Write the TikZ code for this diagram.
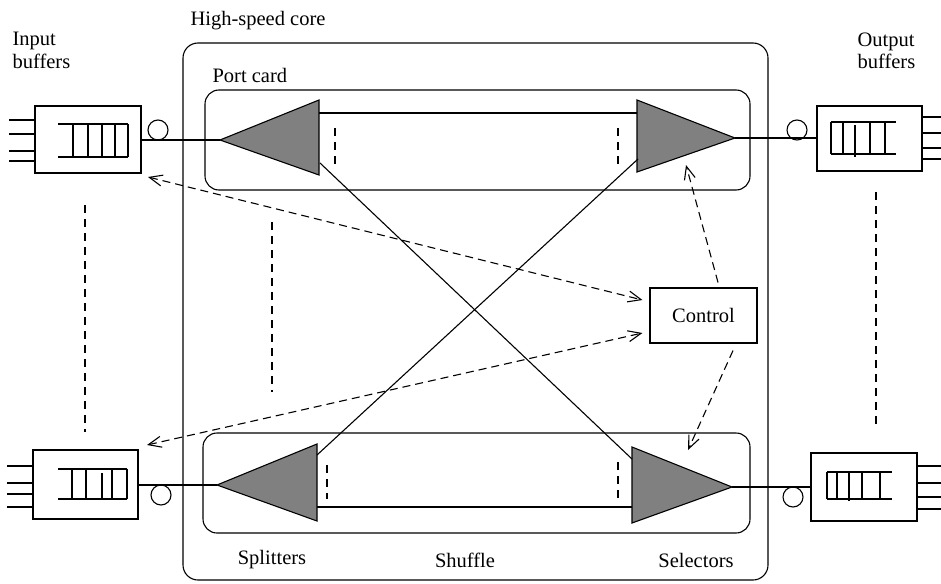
\documentclass[tikz,border=0pt]{standalone}
\usepackage{fontspec}
\setmainfont{Liberation Serif}
\usetikzlibrary{arrows.meta,calc}
\definecolor{ampgray}{RGB}{128,128,128}
\begin{document}
\begin{tikzpicture}[x=1pt,y=-1pt,line width=1.1pt,
  >={Straight Barb[length=13pt,width=11pt,line width=1.1pt]},
  lbl/.style={font=\fontsize{20.5}{22.5}\selectfont,inner sep=0pt},
  bufbox/.style={draw,minimum width=106pt,minimum height=67pt,inner sep=0pt},
  tap/.style={draw,circle,minimum size=20pt,inner sep=0pt},
  card/.style={draw,rounded corners=14pt,inner sep=0pt},
  amp/.style={draw,fill=ampgray,line join=miter},
  ctlbox/.style={draw,minimum width=107pt,minimum height=55pt,inner sep=0pt,font=\fontsize{20.5}{22.5}\selectfont},
  dsh/.style={dash pattern=on 8pt off 6pt},
  sig/.style={dash pattern=on 8pt off 5pt}]
\useasboundingbox (0,0) rectangle (941,583);

% high-speed core and port cards
\node[draw,rounded corners=15pt,minimum width=585pt,minimum height=537pt,inner sep=0pt] (core) at (475.5,311.5) {};
\node[card,minimum width=545pt,minimum height=100pt] (cardT) at (477.5,140) {};
\node[card,minimum width=547pt,minimum height=100pt] (cardB) at (476.5,483) {};

% labels
\node[lbl,anchor=west] (hsc) at (190,21) {High-speed core};
\node[lbl,anchor=west] (pc) at (212,75) {Port card};
\node[lbl,anchor=north west,align=left] (inl) at (12,32) {Input\\buffers};
\node[lbl,anchor=north west,align=left] (outl) at (857,32) {Output\\buffers};
\node[lbl] (spl) at (272,560) {Splitters};
\node[lbl] (shf) at (465,560) {Shuffle};
\node[lbl] (sel) at (696,560) {Selectors};

% buffers
\node[bufbox] (inT) at (88,139.5) {};
\node[bufbox,minimum width=105pt,minimum height=69pt] (inB) at (85.5,484.5) {};
\node[bufbox,minimum width=105pt,minimum height=65pt] (outT) at (869.5,138.5) {};
\node[bufbox,minimum height=68pt] (outB) at (864,487) {};

% feeder lines of the buffers
\foreach \y in {120,134,151,161} \draw (9,\y) -- (inT.west |- 0,\y);
\foreach \y in {466,483,494,507} \draw (7,\y) -- (inB.west |- 0,\y);
\foreach \y in {117,133,148,159} \draw (outT.east |- 0,\y) -- (941,\y);
\foreach \y in {466,483,497,509} \draw (outB.east |- 0,\y) -- (941,\y);

% queues
\draw (58,124) -- (128,124) (58,157) -- (128,157);
\foreach \x in {73,88,102,115,128} \draw (\x,124) -- (\x,157);
\draw (58,469) -- (127,469) (58,499) -- (127,499);
\foreach \x in {72,86,112,127} \draw (\x,469) -- (\x,499);
\draw (102,473) -- (102,499);
\draw (831,122) -- (896,122) (831,154) -- (896,154);
\foreach \x in {831,843,870,885} \draw (\x,122) -- (\x,154);
\draw (855,125) -- (855,157);
\draw (827,472) -- (892,472) (827,499) -- (892,499);
\foreach \x in {827,837,862,880} \draw (\x,472) -- (\x,499);
\draw (849,472) -- (849,501);

% splitters and selectors
\coordinate (sTa) at (220,140);
\coordinate (sTt) at (319,100);
\coordinate (sTb) at (319,175);
\coordinate (sBa) at (217,485);
\coordinate (sBt) at (317,444);
\coordinate (sBb) at (317,521);
\coordinate (xTa) at (735,138);
\coordinate (xTt) at (637,100);
\coordinate (xTb) at (637,172);
\coordinate (xBa) at (732,487);
\coordinate (xBt) at (632,447);
\coordinate (xBb) at (632,523);
\draw[amp] (sTa) -- (sTt) -- (sTb) -- cycle;
\draw[amp] (sBa) -- (sBt) -- (sBb) -- cycle;
\draw[amp] (xTa) -- (xTt) -- (xTb) -- cycle;
\draw[amp] (xBa) -- (xBt) -- (xBb) -- cycle;

% straight-through paths on the cards
\draw (319,113) -- (637,113);
\draw (317,507) -- (632,507);
\draw[dsh] (335,128) -- (335,164);
\draw[dsh] (618,128) -- (618,164);
\draw[dsh] (327,465) -- (327,499);
\draw[dsh] (618,462) -- (618,499);

% shuffle crossings
\draw (320,163) -- (632,459);
\draw (317,455) -- (638,159);

% links between buffers, taps and the core
\node[tap] (tapIT) at (158,130) {};
\node[tap] (tapIB) at (161,495) {};
\node[tap] (tapOT) at (797,130) {};
\node[tap] (tapOB) at (793,497) {};
\draw (inT.east |- sTa) -- (sTa);
\draw (inB.east |- sBa) -- (sBa);
\draw (xTa) -- (outT.west |- xTa);
\draw (xBa) -- (outB.west |- xBa);

% control and its signals
\node[ctlbox] (ctl) at (703.5,315.5) {Control};
\coordinate (cIT) at (148,177);
\coordinate (cIB) at (147,445);
\coordinate (cA) at ($(ctl.west)+(-7,-15.5)$);
\coordinate (cB) at ($(ctl.west)+(-7,17.5)$);
\coordinate (cN) at ($(ctl.north)+(14.5,-5)$);
\coordinate (cS) at ($(ctl.south)+(29.5,7)$);
\coordinate (xTs) at (686,165);
\coordinate (xBs) at (688,450);
\draw[sig,<->] (cIT) -- (cA);
\draw[sig,<->] (cIB) -- (cB);
\draw[sig,->] (cN) -- (xTs);
\draw[sig,->] (cS) -- (xBs);

% elision marks
\draw[dsh] (85,205) -- (85,432);
\draw[dsh] (272,222) -- (272,392);
\draw[dsh] (876,192) -- (876,425);
\end{tikzpicture}
\end{document}
